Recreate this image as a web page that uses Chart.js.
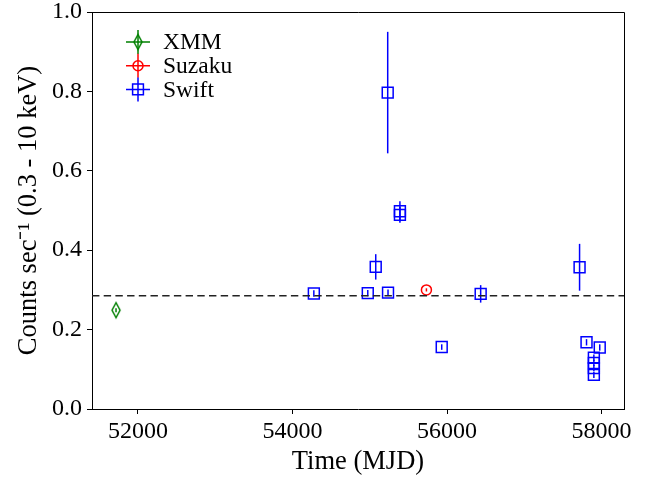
<!DOCTYPE html>
<html>
<head>
<meta charset="utf-8">
<script src="https://cdn.jsdelivr.net/npm/chart.js@4"></script>
<style>
  html, body { margin: 0; padding: 0; background: #fff; }
  #wrap { width: 656px; height: 478px; }
</style>
</head>
<body>
<div id="wrap"><canvas id="lc" width="656" height="478"></canvas></div>
<script>
// ─── Data ───────────────────────────────────────────────────────────────────
const xmmMjd  = [51716];
const xmmRate = [0.249];
const xmmErr  = [0.005];

const suzakuMjd  = [55733];
const suzakuRate = [0.300];
const suzakuErr  = [0.004];

const swiftMjd  = [54276, 54974, 55077, 55236, 55232, 55390, 55390, 55931, 56435, 57715, 57805, 57976, 57900, 57900, 57900, 57900];
const swiftRate = [0.291, 0.292, 0.358, 0.293, 0.797, 0.498, 0.489, 0.156, 0.290, 0.357, 0.168, 0.155, 0.129, 0.116, 0.103, 0.086];
const swiftErr  = [0.008, 0.008, 0.032, 0.008, 0.153, 0.025, 0.020, 0.007, 0.022, 0.059, 0.008, 0.008, 0.008, 0.008, 0.008, 0.008];

const meanRate = 0.285;

const xTicks = [52000, 54000, 56000, 58000];
const yTicks = [0.0, 0.2, 0.4, 0.6, 0.8, 1.0];
const xRange = [51405, 58290];
const yRange = [0, 1];

const FONT = '"Liberation Serif", "Times New Roman", serif';
const GREEN = '#008000', RED = '#ff0000', BLUE = '#0000ff';

function toPoints(xs, ys) {
    return xs.map(function (x, i) { return { x: x, y: ys[i] }; });
}

// thin diamond marker (matplotlib 'd')
function thinDiamond(color) {
    const c = document.createElement('canvas');
    c.width = 12; c.height = 19;
    const g = c.getContext('2d');
    g.strokeStyle = color;
    g.lineWidth = 1.5;
    g.beginPath();
    g.moveTo(6, 2); g.lineTo(10, 9.5); g.lineTo(6, 17); g.lineTo(2, 9.5);
    g.closePath();
    g.stroke();
    return c;
}
const diamondImg = thinDiamond(GREEN);

// ─── Error bars ─────────────────────────────────────────────────────────────
const errorBars = {
    id: 'errorBars',
    beforeDatasetsDraw: function (chart) {
        const ctx = chart.ctx;
        const xs = chart.scales.x, ys = chart.scales.y;
        chart.data.datasets.forEach(function (ds) {
            if (!ds.errors) return;
            ctx.save();
            ctx.strokeStyle = ds.borderColor;
            ctx.lineWidth = 1.5;
            ds.data.forEach(function (p, i) {
                const px = xs.getPixelForValue(p.x);
                ctx.beginPath();
                ctx.moveTo(px, ys.getPixelForValue(p.y - ds.errors[i]));
                ctx.lineTo(px, ys.getPixelForValue(p.y + ds.errors[i]));
                ctx.stroke();
            });
            ctx.restore();
        });
    }
};

// ─── Top / right spines ─────────────────────────────────────────────────────
const frame = {
    id: 'frame',
    afterDatasetsDraw: function (chart) {
        const a = chart.chartArea, ctx = chart.ctx;
        ctx.save();
        ctx.strokeStyle = '#000';
        ctx.lineWidth = 1;
        ctx.beginPath();
        ctx.moveTo(a.left, a.top + 0.5);
        ctx.lineTo(a.right + 0.5, a.top + 0.5);
        ctx.lineTo(a.right + 0.5, a.bottom);
        ctx.stroke();
        ctx.restore();
    }
};

// ─── Legend with errorbar handles ───────────────────────────────────────────
const legendItems = [
    { label: 'XMM', color: GREEN, marker: 'diamond' },
    { label: 'Suzaku', color: RED, marker: 'circle' },
    { label: 'Swift', color: BLUE, marker: 'square' }
];
const ebLegend = {
    id: 'ebLegend',
    afterDraw: function (chart) {
        const ctx = chart.ctx;
        const hx = 138, tx = 163;
        ctx.save();
        legendItems.forEach(function (it, i) {
            const cy = 42 + i * 23.7;
            ctx.strokeStyle = it.color;
            ctx.lineWidth = 1.5;
            ctx.beginPath();
            ctx.moveTo(hx - 12, cy); ctx.lineTo(hx + 12, cy);
            ctx.moveTo(hx, cy - 12); ctx.lineTo(hx, cy + 12);
            ctx.stroke();
            ctx.beginPath();
            if (it.marker === 'diamond') {
                ctx.drawImage(diamondImg, hx - 6, cy - 9.5);
            } else if (it.marker === 'circle') {
                ctx.arc(hx, cy, 5, 0, Math.PI * 2);
                ctx.stroke();
            } else {
                ctx.rect(hx - 5.4, cy - 5.4, 10.8, 10.8);
                ctx.stroke();
            }
            ctx.fillStyle = '#000';
            ctx.font = '23.5px ' + FONT;
            ctx.textBaseline = 'middle';
            ctx.textAlign = 'left';
            ctx.fillText(it.label, tx, cy + 1);
        });
        ctx.restore();
    }
};

new Chart(document.getElementById('lc'), {
    type: 'scatter',
    data: {
        datasets: [
            {
                type: 'line',
                label: 'mean',
                data: [{ x: xRange[0], y: meanRate }, { x: xRange[1], y: meanRate }],
                borderColor: '#222',
                borderWidth: 1.5,
                borderDash: [7.4, 4.3],
                pointRadius: 0,
                fill: false
            },
            {
                label: 'XMM',
                data: toPoints(xmmMjd, xmmRate),
                errors: xmmErr,
                borderColor: GREEN,
                pointStyle: diamondImg,
                pointRadius: 7
            },
            {
                label: 'Suzaku',
                data: toPoints(suzakuMjd, suzakuRate),
                errors: suzakuErr,
                borderColor: RED,
                backgroundColor: 'rgba(0,0,0,0)',
                pointStyle: 'circle',
                pointRadius: 5,
                pointBorderWidth: 1.5
            },
            {
                label: 'Swift',
                data: toPoints(swiftMjd, swiftRate),
                errors: swiftErr,
                borderColor: BLUE,
                backgroundColor: 'rgba(0,0,0,0)',
                pointStyle: 'rect',
                pointRadius: 7.7,
                pointBorderWidth: 1.5
            }
        ]
    },
    options: {
        animation: false,
        responsive: false,
        devicePixelRatio: 1,
        layout: { padding: { left: 0, right: 32, top: 12, bottom: 0 } },
        plugins: {
            legend: { display: false },
            tooltip: { enabled: false }
        },
        scales: {
            x: {
                type: 'linear',
                min: xRange[0],
                max: xRange[1],
                afterBuildTicks: function (s) { s.ticks = xTicks.map(function (v) { return { value: v }; }); },
                afterFit: function (s) { s.height = 69; s.paddingLeft = 0; s.paddingRight = 0; },
                grid: { display: true, drawOnChartArea: false, color: '#000', tickLength: 5, tickWidth: 1 },
                border: { display: true, color: '#000', width: 1 },
                ticks: {
                    color: '#000', autoSkip: false, maxRotation: 0, padding: 3,
                    font: { family: FONT, size: 24 },
                    callback: function (v) { return String(v); }
                },
                title: {
                    display: true, text: 'Time (MJD)', color: '#000',
                    font: { family: FONT, size: 26.5 },
                    padding: { top: 0, bottom: 0.5 }
                }
            },
            y: {
                type: 'linear',
                min: yRange[0],
                max: yRange[1],
                afterBuildTicks: function (s) { s.ticks = yTicks.map(function (v) { return { value: v }; }); },
                afterFit: function (s) { s.width = 92; s.paddingTop = 0; s.paddingBottom = 0; },
                grid: { display: true, drawOnChartArea: false, color: '#000', tickLength: 5, tickWidth: 1 },
                border: { display: true, color: '#000', width: 1 },
                ticks: {
                    color: '#000', autoSkip: false, padding: 5,
                    font: { family: FONT, size: 24 },
                    callback: function (v) { return v.toFixed(1); }
                },
                title: {
                    display: true, text: 'Counts sec\u207B\u00B9 (0.3 - 10 keV)', color: '#000',
                    font: { family: FONT, size: 26.5 },
                    padding: { top: 13, bottom: 0 }
                }
            }
        }
    },
    plugins: [errorBars, frame, ebLegend]
});
</script>
</body>
</html>
